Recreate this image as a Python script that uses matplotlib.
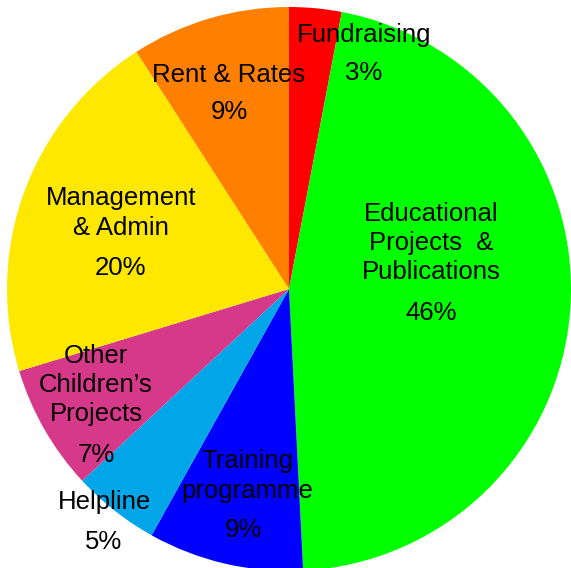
import matplotlib.pyplot as plt

# shares, clockwise from 12 o'clock
categories = ["Fundraising", "Educational Projects & Publications", "Training programme",
              "Helpline", "Other Children's Projects", "Management & Admin", "Rent & Rates"]
shares = [3.0, 46.2, 8.9, 5.0, 7.2, 20.6, 9.1]
pct_labels = ["3%", "46%", "9%", "5%", "7%", "20%", "9%"]
colors = ["#FF0000", "#00FF00", "#0000FF", "#00A6E8", "#D6388A", "#FFE800", "#FF8000"]

# label text as drawn on the chart
label_text = ["Fundraising", "Educational\nProjects  &\nPublications", "Training\nprogramme",
              "Helpline", "Other\nChildren\u2019s\nProjects", "Management\n& Admin", "Rent & Rates"]

plt.rcParams["font.family"] = ["Liberation Sans", "DejaVu Sans"]

W, H = 571, 568
fig = plt.figure(figsize=(W / 100, H / 100), dpi=100)
ax = fig.add_axes([0, 0, 1, 1])
ax.pie(shares, colors=colors, startangle=90, counterclock=False,
       center=(289, H - 289), radius=282, wedgeprops={"linewidth": 0})
ax.set_xlim(0, W)
ax.set_ylim(0, H)
ax.set_aspect("equal")
ax.axis("off")

# name position (centre of text block) and percent position, in pixels from top-left
name_pos = [(364, 35), (431, 243), (247, 476), (104, 502), (96, 385), (121, 213), (229, 75)]
pct_pos = [(364, 73), (431, 313), (243, 530), (104, 542), (96, 455), (121, 268), (229, 112)]

for name, pct, (nx, ny), (px, py) in zip(label_text, pct_labels, name_pos, pct_pos):
    ax.text(nx, H - ny, name, ha="center", va="center", fontsize=18.5, linespacing=1.28)
    ax.text(px, H - py, pct, ha="center", va="center", fontsize=18.5)

fig.savefig("out.png", dpi=100)
